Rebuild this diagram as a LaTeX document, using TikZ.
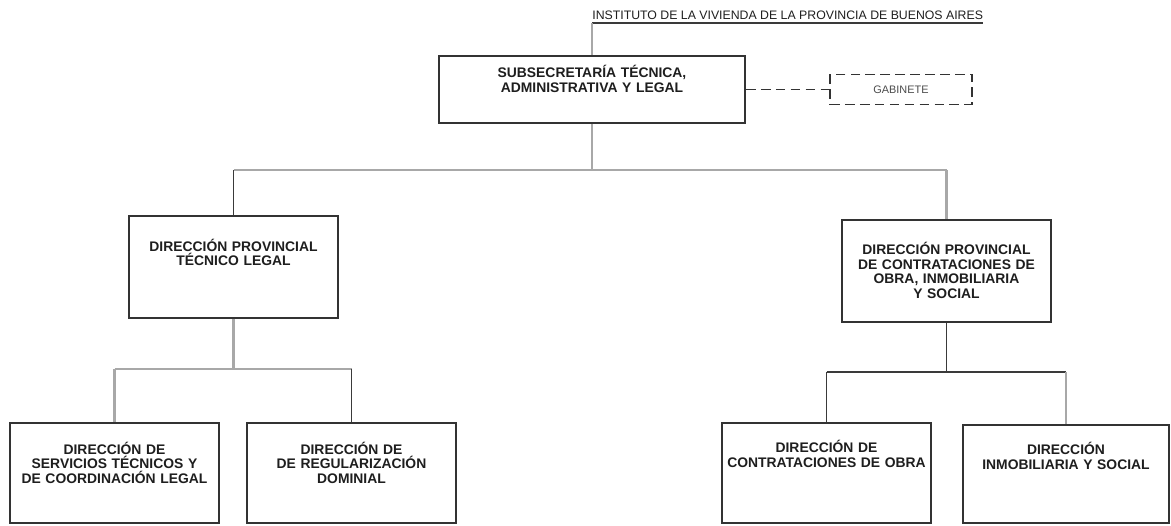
\documentclass[tikz,border=0pt]{standalone}
\usepackage{fontspec}
\setmainfont{Liberation Sans}
\usepackage{xcolor}
\usepackage{tikz}
\usetikzlibrary{calc, positioning}
\definecolor{boxline}{HTML}{333333}
\definecolor{linkgray}{HTML}{A8A8A8}
\definecolor{linkdark}{HTML}{3A3A3A}
\definecolor{ink}{HTML}{1E1E1E}
\tikzset{
    unit/.style={rectangle, draw=boxline, line width=1.1pt, fill=white, align=center,
        inner sep=0pt, text width=4.18cm, text height=0.6cm, text depth=1.4cm,
        font=\fontsize{7.9}{8.3}\selectfont\bfseries, text=ink},
    aux/.style={rectangle, draw=boxline, line width=1.1pt, dash pattern=on 5.5pt off 3pt,
        minimum width=2.84cm, minimum height=0.6cm, inner sep=0pt,
        font=\fontsize{6.2}{7}\selectfont, text=ink!80},
    heading/.style={anchor=south west, inner xsep=0pt, inner ysep=1.5pt,
        font=\fontsize{7}{8}\selectfont, text=ink},
    soft/.style={draw=linkgray, line width=1.3pt},
    hard/.style={draw=linkdark, line width=1.1pt},
    dashlink/.style={draw=boxline, line width=1.1pt, dash pattern=on 5.5pt off 3pt}
}
\begin{document}
\begin{tikzpicture}[x=0.02cm, y=-0.02cm]
    \useasboundingbox (0,0) rectangle (1171,525);

    % Top level
    \node[heading] (ivba) at (592,23) {INSTITUTO DE LA VIVIENDA DE LA PROVINCIA DE BUENOS AIRES};
    \node[unit, text width=6.12cm, text height=0.43cm, text depth=0.91cm] (sub) at (592,89.5) {SUBSECRETARÍA TÉCNICA,\\ADMINISTRATIVA Y LEGAL};
    \node[aux] (gab) at (901,89.5) {GABINETE};

    % Direcciones provinciales
    \node[unit, text height=0.7cm, text depth=1.34cm] (dptl) at (233.5,267) {DIRECCIÓN PROVINCIAL\\TÉCNICO LEGAL};
    \node[unit, text height=0.69cm, text depth=1.35cm] (dpco) at (946.5,271) {DIRECCIÓN PROVINCIAL\\DE CONTRATACIONES DE\\OBRA, INMOBILIARIA\\Y SOCIAL};

    % Direcciones
    \node[unit, text height=0.62cm, text depth=1.38cm] (dstc) at (114.5,473) {DIRECCIÓN DE\\SERVICIOS TÉCNICOS Y\\DE COORDINACIÓN LEGAL};
    \node[unit, text height=0.62cm, text depth=1.38cm] (dreg) at (351.5,473) {DIRECCIÓN DE\\DE REGULARIZACIÓN\\DOMINIAL};
    \node[unit, text height=0.59cm, text depth=1.41cm] (dcob) at (826.5,473) {DIRECCIÓN DE\\CONTRATACIONES DE OBRA};
    \node[unit, text width=4.12cm, text height=0.59cm, text depth=1.37cm] (dinm) at (1066,474) {DIRECCIÓN\\INMOBILIARIA Y SOCIAL};

    % Bus points
    \coordinate (bus) at (592,170);
    \coordinate (busL) at (233.5,369);
    \coordinate (busR) at (946.5,372);

    % Connections
    \draw[hard] (ivba.south west) -- (ivba.south east);
    \draw[soft] (ivba.south west) -- (sub.north -| ivba.south west);
    \draw[dashlink] (sub.east) -- (gab.west);

    \draw[soft] (sub.south) -- (bus);
    \draw[soft] (dptl.north |- bus) -- (dpco.north |- bus);
    \draw[hard] (dptl.north |- bus) -- (dptl.north);
    \draw[soft] (dpco.north |- bus) -- (dpco.north);

    \draw[soft] (dptl.south) -- (busL);
    \draw[soft] (dstc.north |- busL) -- (dreg.north |- busL);
    \draw[soft] (dstc.north |- busL) -- (dstc.north);
    \draw[hard] (dreg.north |- busL) -- (dreg.north);

    \draw[hard] (dpco.south) -- (busR);
    \draw[hard] (dcob.north |- busR) -- (dcob.north);
    \draw[hard] (dcob.north |- busR) -- (dinm.north |- busR);
    \draw[soft] (dinm.north |- busR) -- (dinm.north);
\end{tikzpicture}
\end{document}
